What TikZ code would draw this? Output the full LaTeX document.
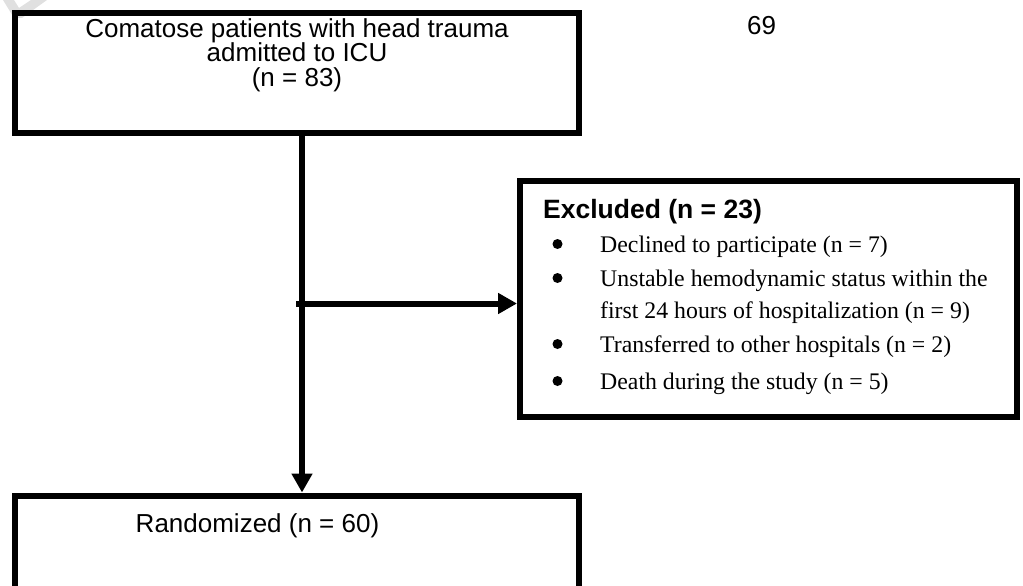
\documentclass[tikz,border=0pt]{standalone}
\usepackage{fontspec}
\setmainfont{Liberation Serif}
\setsansfont{Liberation Sans}
\usetikzlibrary{arrows.meta}
\begin{document}
\begin{tikzpicture}[x=1pt,y=-1pt,
  box/.style={draw=black, line width=6pt, inner sep=0pt},
  conn/.style={draw=black, line width=6pt, -{Triangle[length=19pt,width=20pt]}},
  sanstext/.style={font=\fontsize{26}{30}\selectfont\sffamily, inner sep=0pt},
  headtext/.style={font=\fontsize{26.5}{30}\selectfont\sffamily\bfseries, inner sep=0pt},
  itemtext/.style={font=\fontsize{23.8}{28}\selectfont\rmfamily, inner sep=0pt, anchor=base west},
  bulletdot/.style={circle, fill=black, minimum size=10pt, inner sep=0pt}]
\useasboundingbox (0,0) rectangle (1023,586);
\clip (0,0) rectangle (1023,586);
% faint watermark fragment
\fill[black!12] (3,0) -- (14,0) -- (19,8) -- (31,0) -- (47,0) -- (22,18) -- (14,18) -- cycle;
% boxes
\node[box, minimum width=564pt, minimum height=120pt] (top) at (297,73) {};
\node[box, minimum width=497pt, minimum height=236pt] (excl) at (768.5,299) {};
\node[box, minimum width=564pt, minimum height=200pt] (bot) at (297,595.5) {};
% top text
\node[sanstext, anchor=base] (t1) at (297,38) {Comatose patients with head trauma};
\node[sanstext, anchor=base] (t2) at (297,62) {admitted to ICU};
\node[sanstext, anchor=base] (t3) at (297,86) {(n = 83)};
% page number
\node[sanstext, anchor=base] (pg) at (761.5,35) {69};
% excluded text
\node[headtext, anchor=base west] (eh) at (543,218) {Excluded (n = 23)};
\node[itemtext] (e1) at (600,252) {Declined to participate (n = 7)};
\node[itemtext] (e2) at (600,286) {Unstable hemodynamic status within the};
\node[itemtext] (e2b) at (600,318) {first 24 hours of hospitalization (n = 9)};
\node[itemtext] (e3) at (600,352) {Transferred to other hospitals (n = 2)};
\node[itemtext] (e4) at (600,389) {Death during the study (n = 5)};
\node[bulletdot] (b1) at (557.5,244) {};
\node[bulletdot] (b2) at (557.5,278) {};
\node[bulletdot] (b3) at (557.5,344) {};
\node[bulletdot] (b4) at (557.5,381) {};
% bottom text
\node[sanstext, anchor=base] (r1) at (257.5,532) {Randomized (n = 60)};
% connectors
\draw[conn] ([xshift=5pt]top.south) -- ([xshift=5pt]top.south |- bot.north);
\coordinate (j) at (296,303.5);
\draw[conn] (j) -- (j -| excl.west);
\end{tikzpicture}
\end{document}
